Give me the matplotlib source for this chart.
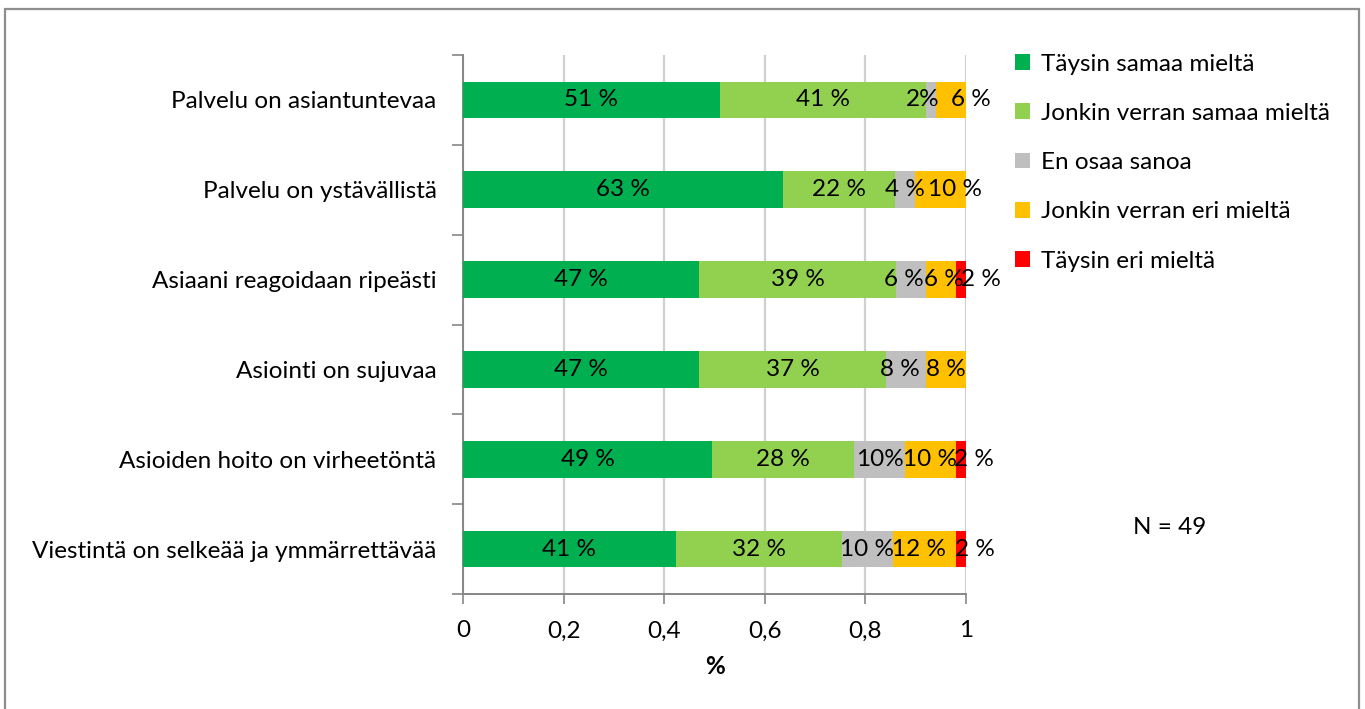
import matplotlib
matplotlib.use("Agg")
import matplotlib.pyplot as plt
from matplotlib.patches import Rectangle
import numpy as np

# Survey statements (top to bottom) and answer shares in percent
statements = [
    "Palvelu on asiantuntevaa",
    "Palvelu on ystävällistä",
    "Asiaani reagoidaan ripeästi",
    "Asiointi on sujuvaa",
    "Asioiden hoito on virheetöntä",
    "Viestintä on selkeää ja ymmärrettävää",
]
answer_labels = [
    "Täysin samaa mieltä",
    "Jonkin verran samaa mieltä",
    "En osaa sanoa",
    "Jonkin verran eri mieltä",
    "Täysin eri mieltä",
]
fully_agree = [51, 63, 47, 47, 49, 41]
somewhat_agree = [41, 22, 39, 37, 28, 32]
cant_say = [2, 4, 6, 8, 10, 10]
somewhat_disagree = [6, 10, 6, 8, 10, 12]
fully_disagree = [0, 0, 2, 0, 2, 2]
x_ticks = [0, 0.2, 0.4, 0.6, 0.8, 1.0]
x_tick_labels = ["0", "0,2", "0,4", "0,6", "0,8", "1"]
n_note = "N = 49"

colors = ["#00B050", "#92D050", "#BFBFBF", "#FFC000", "#FF0000"]

# Labels written without a space before the percent sign: (row, series)
compact_labels = {(0, 2), (4, 2)}
# Manual horizontal nudges for crowded labels, in axis units: (row, series) -> dx
label_nudge = {
    (0, 2): -0.016, (0, 3): 0.04,
    (1, 3): 0.029,
    (2, 2): -0.013, (2, 3): 0.006, (2, 4): 0.04,
    (3, 2): -0.012,
    (4, 4): 0.025,
    (5, 3): -0.011, (5, 4): 0.028,
}

plt.rcParams["font.family"] = ["Lato", "DejaVu Sans"]
FS = 17.5

series = np.array([fully_agree, somewhat_agree, cant_say,
                   somewhat_disagree, fully_disagree], dtype=float)
totals = series.sum(axis=0)
shares = series / totals  # 100 % stacked

fig = plt.figure(figsize=(13.65, 7.09), dpi=100)
ax = fig.add_axes([463 / 1365, 1 - 594 / 709, 503 / 1365, 539 / 709])

y = np.arange(len(statements))
left = np.zeros(len(statements))
handles = []
for s in range(len(answer_labels)):
    h = ax.barh(y, shares[s], left=left, height=0.41, color=colors[s],
                label=answer_labels[s], zorder=3)
    handles.append(h)
    for r in range(len(statements)):
        v = series[s, r]
        if v <= 0:
            continue
        txt = f"{int(v)}%" if (r, s) in compact_labels else f"{int(v)} %"
        cx = left[r] + shares[s, r] / 2 + label_nudge.get((r, s), 0.0)
        ax.text(cx, r, txt, ha="center", va="center", fontsize=FS,
                color="black", zorder=5)
    left = left + shares[s]

ax.set_xlim(0, 1)
ax.set_ylim(len(statements) - 0.5, -0.5)
ax.set_xticks(x_ticks)
ax.set_xticklabels(x_tick_labels, fontsize=FS)
ax.set_yticks(y)
ax.set_yticklabels(statements, fontsize=FS)
ax.set_yticks(np.arange(-0.5, len(statements)), minor=True)
ax.tick_params(axis="y", which="major", length=0, pad=19)
ax.tick_params(axis="y", which="minor", length=8, width=1.2, color="#868686",
               direction="out")
ax.tick_params(axis="x", which="major", length=7, width=1.2, color="#868686",
               direction="out", pad=12)
ax.grid(axis="x", color="#D0D0D0", linewidth=1.6, zorder=0)
ax.set_axisbelow(True)
for side in ("top", "right"):
    ax.spines[side].set_visible(False)
for side in ("left", "bottom"):
    ax.spines[side].set_color("#868686")
    ax.spines[side].set_linewidth(1.4)
ax.set_xlabel("%", fontsize=FS, fontweight="bold", labelpad=10)

leg = fig.legend(handles=handles, labels=answer_labels,
                 loc="upper left", bbox_to_anchor=(1005 / 1365, 1 - 44 / 709),
                 frameon=False, fontsize=FS, handlelength=0.62, handleheight=0.62,
                 handletextpad=0.45, labelspacing=1.16, borderaxespad=0)

fig.text(1170 / 1365, 1 - 527 / 709, n_note, ha="center", va="center",
         fontsize=FS)

fig.patches.append(Rectangle((5 / 1365, -0.01), 1354 / 1365, 1 - 9 / 709 + 0.01,
                             transform=fig.transFigure, fill=False,
                             edgecolor="#8E8E8E", linewidth=1.6))

fig.savefig("out.png", dpi=100)
